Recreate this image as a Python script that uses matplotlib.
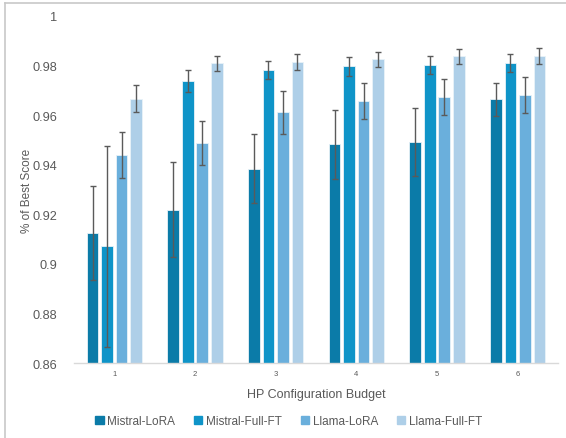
import numpy as np
import matplotlib
matplotlib.use('Agg')
import matplotlib.pyplot as plt
from matplotlib.lines import Line2D

plt.rcParams['font.family'] = ['Liberation Sans', 'DejaVu Sans']

budgets = ['1', '2', '3', '4', '5', '6']
series = ['Mistral-LoRA', 'Mistral-Full-FT', 'Llama-LoRA', 'Llama-Full-FT']
mistral_lora = [0.9123, 0.9218, 0.9383, 0.9482, 0.9491, 0.9664]
mistral_full = [0.9071, 0.9738, 0.9781, 0.9797, 0.9801, 0.9811]
llama_lora = [0.9440, 0.9488, 0.9612, 0.9658, 0.9672, 0.9680]
llama_full = [0.9666, 0.9809, 0.9815, 0.9825, 0.9837, 0.9838]
mistral_lora_err = [0.0190, 0.0191, 0.0139, 0.0138, 0.0138, 0.0067]
mistral_full_err = [0.0405, 0.0046, 0.0037, 0.0038, 0.0037, 0.0037]
llama_lora_err = [0.0092, 0.0090, 0.0087, 0.0072, 0.0073, 0.0073]
llama_full_err = [0.0054, 0.0031, 0.0031, 0.0031, 0.0031, 0.0031]
yticks = [0.86, 0.88, 0.90, 0.92, 0.94, 0.96, 0.98, 1.0]
ytick_labels = ['0.86', '0.88', '0.9', '0.92', '0.94', '0.96', '0.98', '1']

values = [mistral_lora, mistral_full, llama_lora, llama_full]
errors = [mistral_lora_err, mistral_full_err, llama_lora_err, llama_full_err]
colors = ['#0b7ba8', '#0f94c8', '#6aafdc', '#aecfe8']

fig = plt.figure(figsize=(5.66, 4.39), dpi=100)
ax = fig.add_axes([0.1307, 0.1708, 0.8552, 0.7905])

x = np.arange(len(budgets)) + 0.5
step, width = 0.18, 0.145
for i, (vals, errs, c) in enumerate(zip(values, errors, colors)):
    ax.bar(x + (i - 1.5) * step, vals, width, color=c, edgecolor='#e8f2f8',
           linewidth=0.6, label=series[i], zorder=2)
    ax.errorbar(x + (i - 1.5) * step, vals, yerr=errs, fmt='none',
                ecolor='#5a5a5a', elinewidth=1.0, capsize=2.2, capthick=1.0, zorder=3)

ax.set_xlim(0, 6)
ax.set_ylim(0.86, 1.0)
ax.set_yticks(yticks)
ax.set_yticklabels(ytick_labels)
ax.set_xticks(x)
ax.set_xticklabels(budgets)
ax.tick_params(axis='y', length=0, labelsize=9.2, labelcolor='#595959', pad=12)
ax.tick_params(axis='x', length=0, labelsize=5.5, labelcolor='#595959', pad=5)
for s in ['top', 'right', 'left']:
    ax.spines[s].set_visible(False)
ax.spines['bottom'].set_color('#d9d9d9')
ax.spines['bottom'].set_linewidth(1.0)

ax.set_xlabel('HP Configuration Budget', fontsize=9, color='#595959', labelpad=8)
ax.set_ylabel('% of Best Score', fontsize=8.5, color='#595959')
ax.yaxis.set_label_coords(-0.085, 0.5)

handles = [plt.Rectangle((0, 0), 1, 1, color=c) for c in colors]
fig.legend(handles, series, loc='center', bbox_to_anchor=(0.51, 0.038), ncol=4,
           frameon=False, fontsize=8.5, handlelength=0.7, handleheight=0.7,
           handletextpad=0.3, columnspacing=1.6, labelcolor='#595959')

# chart frame (left and top edges visible)
fig.add_artist(Line2D([5 / 566, 5 / 566], [0, 1 - 4 / 439], transform=fig.transFigure,
                      color='#c8c8c8', lw=1.2))
fig.add_artist(Line2D([5 / 566, 1], [1 - 4 / 439, 1 - 4 / 439], transform=fig.transFigure,
                      color='#c8c8c8', lw=1.2))

fig.savefig('out.png', dpi=100)
